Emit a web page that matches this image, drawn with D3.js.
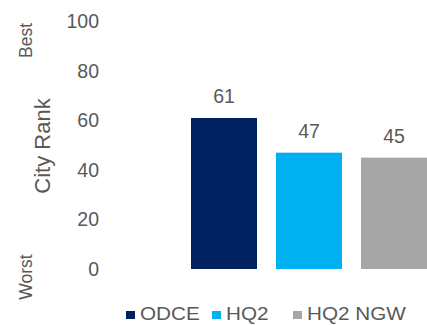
<!DOCTYPE html>
<html><head><meta charset="utf-8">
<script src="https://cdn.jsdelivr.net/npm/d3@7"></script>
<style>body{margin:0;background:#fff}svg{display:block}text{font-family:"Liberation Sans",Arial,sans-serif;fill:#595959}</style>
</head><body><svg id="c" width="427" height="325"></svg>
<script>
const categories = ["ODCE", "HQ2", "HQ2 NGW"];
const values = [61, 47, 45];
const colors = ["#002060", "#00B0F0", "#A6A6A6"];
const yTicks = [0, 20, 40, 60, 80, 100];

const svg = d3.select("#c");
const y = d3.scaleLinear().domain([0, 100]).range([269, 21.5]);
const x = d3.scaleBand().domain(categories).range([181.5, 436.5]).paddingInner(0.2235).paddingOuter(0.1118);

const yAxis = d3.axisLeft(y).tickValues(yTicks).tickSize(0).tickPadding(0);
const ga = svg.append("g").attr("transform", "translate(99,0)").call(yAxis);
ga.select(".domain").remove();
ga.selectAll("text").attr("font-size", 19.5).attr("font-family", '"Liberation Sans",Arial,sans-serif').attr("fill", "#595959");

svg.selectAll("rect.bar").data(categories).join("rect").attr("class", "bar")
  .attr("x", d => x(d)).attr("width", x.bandwidth())
  .attr("y", (d, i) => y(values[i])).attr("height", (d, i) => y(0) - y(values[i]))
  .attr("fill", (d, i) => colors[i]);

svg.selectAll("text.val").data(categories).join("text").attr("class", "val")
  .attr("x", d => x(d) + x.bandwidth() / 2).attr("y", (d, i) => y(values[i]) - 15)
  .attr("text-anchor", "middle").attr("font-size", 19.5).text((d, i) => values[i]);

svg.append("text").attr("transform", "translate(50,146) rotate(-90)").attr("text-anchor", "middle")
  .attr("font-size", 22).text("City Rank");
svg.append("text").attr("transform", "translate(32,40.5) rotate(-90)").attr("text-anchor", "middle")
  .attr("font-size", 17.5).text("Best");
svg.append("text").attr("transform", "translate(32,277) rotate(-90)").attr("text-anchor", "middle")
  .attr("font-size", 17.5).text("Worst");

const legX = [126, 212, 293];
const lg = svg.selectAll("g.leg").data(categories).join("g").attr("class", "leg")
  .attr("transform", (d, i) => `translate(${legX[i]},0)`);
lg.append("rect").attr("x", 0).attr("y", 311).attr("width", 9).attr("height", 8).attr("fill", (d, i) => colors[i]);
lg.append("text").attr("transform", "translate(14,320) scale(1.15,1)").attr("font-size", 18).text(d => d);
</script></body></html>
